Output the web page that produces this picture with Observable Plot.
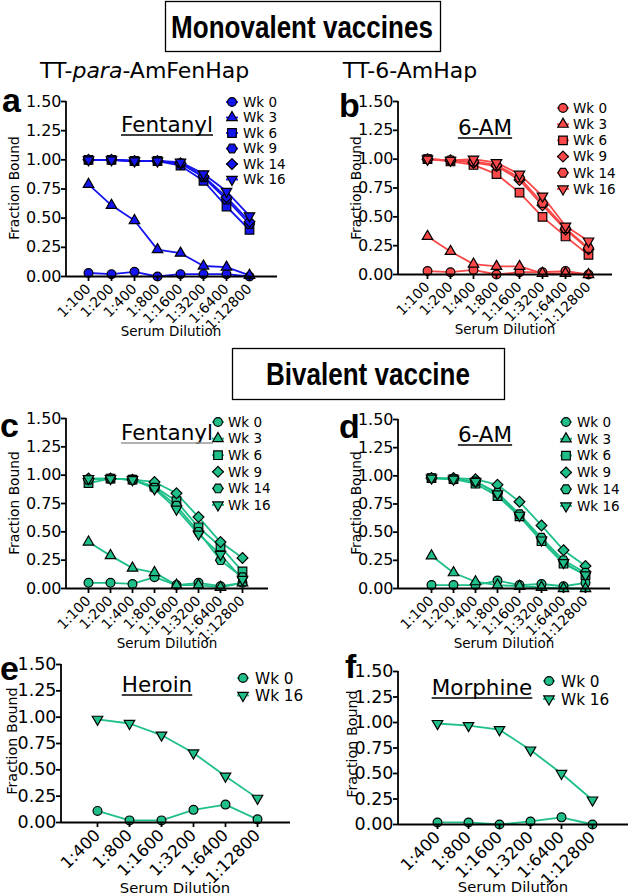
<!DOCTYPE html>
<html><head><meta charset="utf-8">
<script src="https://cdn.jsdelivr.net/npm/d3@7"></script>
<script src="https://cdn.jsdelivr.net/npm/@observablehq/plot@0.6"></script>
<style>
html,body{margin:0;padding:0;background:#fff;}
#root{position:relative;width:629px;height:896px;overflow:hidden;font-family:"DejaVu Sans",sans-serif;}
#root svg{position:absolute;left:0;top:0;overflow:visible;}
</style></head><body><div id="root"></div>
<script>
// ---------- data ----------
const dil8 = ["1:100","1:200","1:400","1:800","1:1600","1:3200","1:6400","1:12800"];
const dil6 = ["1:400","1:800","1:1600","1:3200","1:6400","1:12800"];
const weeks6 = ["Wk 0","Wk 3","Wk 6","Wk 9","Wk 14","Wk 16"];
const weeks2 = ["Wk 0","Wk 16"];
const yTicks = [0, 0.25, 0.5, 0.75, 1.0, 1.25, 1.5];

// a: TT-para-AmFenHap, fentanyl
const fenA_wk0  = [0.03,0.02,0.04,0.00,0.02,0.02,0.02,0.00];
const fenA_wk3  = [0.79,0.61,0.48,0.23,0.20,0.09,0.08,0.01];
const fenA_wk6  = [1.00,1.00,0.99,0.99,0.95,0.82,0.60,0.40];
const fenA_wk9  = [1.00,1.00,0.99,0.99,0.97,0.85,0.66,0.45];
const fenA_wk14 = [1.00,1.00,0.99,0.99,0.97,0.86,0.68,0.47];
const fenA_wk16 = [1.00,1.00,0.99,0.99,0.98,0.88,0.73,0.52];
// b: TT-6-AmHap, 6-AM
const amB_wk0  = [0.03,0.02,0.04,0.00,0.02,0.02,0.03,0.00];
const amB_wk3  = [0.33,0.20,0.09,0.07,0.07,0.01,0.01,0.00];
const amB_wk6  = [1.00,0.98,0.95,0.87,0.71,0.50,0.33,0.17];
const amB_wk9  = [1.00,0.99,0.97,0.94,0.82,0.60,0.39,0.22];
const amB_wk14 = [1.00,0.99,0.98,0.95,0.84,0.62,0.40,0.23];
const amB_wk16 = [1.00,0.99,1.00,0.97,0.87,0.68,0.42,0.29];
// c: bivalent, fentanyl
const fenC_wk0  = [0.05,0.05,0.04,0.10,0.03,0.05,0.02,0.05];
const fenC_wk3  = [0.41,0.29,0.18,0.14,0.03,0.03,0.01,0.05];
const fenC_wk6  = [0.93,0.97,0.96,0.90,0.77,0.54,0.37,0.15];
const fenC_wk9  = [0.97,0.97,0.96,0.94,0.84,0.63,0.41,0.27];
const fenC_wk14 = [0.96,0.97,0.96,0.89,0.73,0.50,0.25,0.10];
const fenC_wk16 = [0.97,0.97,0.96,0.88,0.70,0.48,0.30,0.08];
// d: bivalent, 6-AM
const amD_wk0  = [0.03,0.03,0.03,0.07,0.03,0.04,0.02,0.05];
const amD_wk3  = [0.29,0.14,0.06,0.03,0.02,0.01,0.00,0.00];
const amD_wk6  = [0.98,0.97,0.93,0.82,0.64,0.42,0.22,0.12];
const amD_wk9  = [0.98,0.98,0.97,0.92,0.77,0.56,0.34,0.20];
const amD_wk14 = [0.98,0.97,0.95,0.85,0.66,0.45,0.25,0.14];
const amD_wk16 = [0.98,0.97,0.95,0.84,0.65,0.43,0.23,0.12];
// e: bivalent, heroin
const her_wk0  = [0.11,0.02,0.02,0.12,0.17,0.03];
const her_wk16 = [0.98,0.94,0.83,0.66,0.44,0.23];
// f: bivalent, morphine
const mor_wk0  = [0.02,0.02,0.00,0.03,0.07,0.00];
const mor_wk16 = [0.99,0.97,0.93,0.73,0.50,0.24];

const BLUE = "#1414f0", RED = "#fa4848", GREEN = "#1fbf8a";
const FONT = "'DejaVu Sans', 'Liberation Sans', Arial, sans-serif";
const BOLDFONT = "'Liberation Sans', Arial, Helvetica, sans-serif";

// ---------- symbols ----------
const S3 = Math.sqrt(3);
const sym = {
  circle: {draw(c){ const r=4.4; c.moveTo(r,0); c.arc(0,0,r,0,2*Math.PI); }},
  square: {draw(c){ const h=4.3; c.rect(-h,-h,2*h,2*h); }},
  triangle: {draw(c){ const s=10.5, h=s*S3/2; c.moveTo(0,-2*h/3); c.lineTo(s/2,h/3); c.lineTo(-s/2,h/3); c.closePath(); }},
  triDown: {draw(c){ const s=10.5, h=s*S3/2; c.moveTo(0,2*h/3); c.lineTo(s/2,-h/3); c.lineTo(-s/2,-h/3); c.closePath(); }},
  diamond: {draw(c){ const r=5.4; c.moveTo(0,-r); c.lineTo(r,0); c.lineTo(0,r); c.lineTo(-r,0); c.closePath(); }},
  hexagon: {draw(c){ const r=5; for (let i=0;i<6;i++){ const a=i*Math.PI/3; const x=r*Math.cos(a), y=r*Math.sin(a); i?c.lineTo(x,y):c.moveTo(x,y);} c.closePath(); }}
};
function symPath(s){ const p = d3.path(); s.draw(p, 0); return p.toString(); }

const root = document.getElementById("root");

function panel(cfg){
  const marks = [];
  cfg.series.forEach(s => {
    const rows = s.values.map((v,i) => ({dil: cfg.dil[i], v, week: s.name}));
    marks.push(Plot.line(rows, {x:"dil", y:"v", stroke: cfg.color, strokeWidth: 1.8}));
  });
  cfg.series.forEach(s => {
    const rows = s.values.map((v,i) => ({dil: cfg.dil[i], v, week: s.name}));
    marks.push(Plot.dot(rows, {x:"dil", y:"v", symbol: s.sym, r: 4.5, fill: cfg.color, stroke: "#000", strokeWidth: 1.2}));
  });
  marks.push(Plot.ruleY([0], {stroke:"#000", strokeWidth: 1.8}));
  marks.push(Plot.axisY({ticks: yTicks, tickFormat: d => d.toFixed(2), tickSize: 5, tickPadding: 0, fontSize: cfg.yFont, label: null, strokeWidth: 1.8}));
  marks.push(Plot.axisX({tickRotate: -45, tickSize: 5, tickPadding: 5, fontSize: cfg.xFont, label: null, strokeWidth: 1.8}));
  const p = Plot.plot({
    width: 629, height: 896,
    marginLeft: cfg.axisX, marginRight: 629 - cfg.right,
    marginTop: cfg.y150, marginBottom: 896 - cfg.y0,
    x: {type: "point", domain: cfg.dil, range: [cfg.xFirst, cfg.xLast]},
    y: {domain: [0, 1.5]},
    style: {background: "transparent", fontFamily: FONT, color: "#000"},
    marks
  });
  const ys = p.scale("y");
  d3.select(p).append("line")
    .attr("x1", cfg.axisX).attr("x2", cfg.axisX)
    .attr("y1", ys.apply(0) + 0.9).attr("y2", ys.apply(1.5))
    .attr("stroke", "#000").attr("stroke-width", 1.8);
  root.append(p);
}

panel({dil: dil8, color: BLUE, axisX: 66, right: 277, y0: 276, y150: 101, xFirst: 74, xLast: 262, yFont: 16, xFont: 14,
  series: [
    {name:"Wk 0", values: fenA_wk0, sym: sym.circle},
    {name:"Wk 3", values: fenA_wk3, sym: sym.triangle},
    {name:"Wk 6", values: fenA_wk6, sym: sym.square},
    {name:"Wk 9", values: fenA_wk9, sym: sym.hexagon},
    {name:"Wk 14", values: fenA_wk14, sym: sym.diamond},
    {name:"Wk 16", values: fenA_wk16, sym: sym.triDown}]});
panel({dil: dil8, color: RED, axisX: 398, right: 612, y0: 274, y150: 101, xFirst: 415, xLast: 599, yFont: 16, xFont: 14,
  series: [
    {name:"Wk 0", values: amB_wk0, sym: sym.circle},
    {name:"Wk 3", values: amB_wk3, sym: sym.triangle},
    {name:"Wk 6", values: amB_wk6, sym: sym.square},
    {name:"Wk 9", values: amB_wk9, sym: sym.diamond},
    {name:"Wk 14", values: amB_wk14, sym: sym.hexagon},
    {name:"Wk 16", values: amB_wk16, sym: sym.triDown}]});
panel({dil: dil8, color: GREEN, axisX: 66, right: 268, y0: 588, y150: 418, xFirst: 74, xLast: 256, yFont: 16, xFont: 14,
  series: [
    {name:"Wk 0", values: fenC_wk0, sym: sym.circle},
    {name:"Wk 3", values: fenC_wk3, sym: sym.triangle},
    {name:"Wk 6", values: fenC_wk6, sym: sym.square},
    {name:"Wk 9", values: fenC_wk9, sym: sym.diamond},
    {name:"Wk 14", values: fenC_wk14, sym: sym.hexagon},
    {name:"Wk 16", values: fenC_wk16, sym: sym.triDown}]});
panel({dil: dil8, color: GREEN, axisX: 398, right: 610, y0: 588, y150: 419, xFirst: 417, xLast: 598, yFont: 16, xFont: 14,
  series: [
    {name:"Wk 0", values: amD_wk0, sym: sym.circle},
    {name:"Wk 3", values: amD_wk3, sym: sym.triangle},
    {name:"Wk 6", values: amD_wk6, sym: sym.square},
    {name:"Wk 9", values: amD_wk9, sym: sym.diamond},
    {name:"Wk 14", values: amD_wk14, sym: sym.hexagon},
    {name:"Wk 16", values: amD_wk16, sym: sym.triDown}]});
panel({dil: dil6, color: GREEN, axisX: 61, right: 290, y0: 822, y150: 664, xFirst: 81, xLast: 273, yFont: 17.5, xFont: 16.5,
  series: [
    {name:"Wk 0", values: her_wk0, sym: sym.circle},
    {name:"Wk 16", values: her_wk16, sym: sym.triDown}]});
panel({dil: dil6, color: GREEN, axisX: 398, right: 628, y0: 824, y150: 671, xFirst: 421, xLast: 608, yFont: 17.5, xFont: 16.5,
  series: [
    {name:"Wk 0", values: mor_wk0, sym: sym.circle},
    {name:"Wk 16", values: mor_wk16, sym: sym.triDown}]});

// ---------- annotations overlay ----------
const ov = d3.select(root).append("svg").attr("width", 629).attr("height", 896)
  .style("font-family", FONT);
function txt(x, y, s, o = {}){
  return ov.append("text").attr("x", x).attr("y", y).text(s)
    .attr("font-size", o.size || 15).attr("font-weight", o.weight || "normal")
    .attr("font-family", o.family || FONT)
    .attr("text-anchor", o.anchor || "start").attr("fill", "#000");
}
// header boxes
ov.append("rect").attr("x",165.5).attr("y",1.5).attr("width",275).attr("height",50).attr("fill","none").attr("stroke","#000").attr("stroke-width",1.3);
txt(302, 38, "Monovalent vaccines", {size: 31, weight: "bold", anchor: "middle", family: BOLDFONT})
  .attr("transform", "translate(302,0) scale(0.84,1) translate(-302,0)");
ov.append("rect").attr("x",232.5).attr("y",348.5).attr("width",272).attr("height",51).attr("fill","none").attr("stroke","#000").attr("stroke-width",1.3);
txt(368, 385, "Bivalent vaccine", {size: 31, weight: "bold", anchor: "middle", family: BOLDFONT})
  .attr("transform", "translate(368,0) scale(0.84,1) translate(-368,0)");
// vaccine names
const t1 = ov.append("text").attr("x", 40).attr("y", 78).attr("font-size", 22).attr("font-family", FONT);
t1.append("tspan").text("TT-");
t1.append("tspan").attr("font-style","italic").text("para");
t1.append("tspan").text("-AmFenHap");
txt(410, 78, "TT-6-AmHap", {size: 22, anchor: "middle"});

// panel letters
[["a",2,112],["b",339,117],["c",0,437],["d",339,438],["e",0,680],["f",345,678]]
  .forEach(([l,x,y]) => txt(x, y, l, {size: 34, weight: "bold", family: BOLDFONT}));

// panel titles (underlined)
[["Fentanyl",167,132,"#000"],["6-AM",485,135,"#000"],["Fentanyl",167,440,"#999"],["6-AM",485,442,"#000"],["Heroin",157,692,"#000"],["Morphine",482,695,"#000"]]
  .forEach(([s,x,y,uc]) => {
    const t = txt(x, y, s, {size: 21.5, anchor: "middle"});
    const w = t.node().getComputedTextLength();
    ov.append("line").attr("x1", x - w/2).attr("x2", x + w/2).attr("y1", y + 3).attr("y2", y + 3)
      .attr("stroke", uc).attr("stroke-width", 1.3);
  });

// axis titles
[[19,188,13.8],[361,188,13.8],[19,503,13.8],[361,503,13.8],[17,741,14.3],[357,744,14.3]].forEach(([x,y,s]) =>
  txt(x, y, "Fraction Bound", {size: s, anchor: "middle"}).attr("transform", `rotate(-90,${x},${y})`));
[[171,336,13.5],[505,334,13.5],[167,648,13.5],[504,648,13.5],[175,893,14.8],[513,892,14.8]].forEach(([x,y,s]) =>
  txt(x, y, "Serum Dilution", {size: s, anchor: "middle"}));

// legends
function legend(names, syms, color, symX, textX, y0, dy, size){
  names.forEach((n,i) => {
    const y = y0 + i*dy;
    ov.append("line").attr("x1", symX-6).attr("x2", symX+6).attr("y1", y).attr("y2", y).attr("stroke", color).attr("stroke-width", 1.8);
    ov.append("path").attr("d", symPath(syms[i])).attr("transform", `translate(${symX},${y})`)
      .attr("fill", color).attr("stroke", "#000").attr("stroke-width", 1.2);
    txt(textX, y + size*0.36, n, {size});
  });
}
legend(weeks6, [sym.circle, sym.triangle, sym.square, sym.hexagon, sym.diamond, sym.triDown], BLUE, 232, 243, 102, 15.5, 13.5);
legend(weeks6, [sym.circle, sym.triangle, sym.square, sym.diamond, sym.hexagon, sym.triDown], RED, 563, 573, 108, 16.2, 13.5);
legend(weeks6, [sym.circle, sym.triangle, sym.square, sym.diamond, sym.hexagon, sym.triDown], GREEN, 218, 228, 422, 16.6, 13.5);
legend(weeks6, [sym.circle, sym.triangle, sym.square, sym.diamond, sym.hexagon, sym.triDown], GREEN, 566, 577, 422, 16.8, 13.5);
legend(weeks2, [sym.circle, sym.triDown], GREEN, 243, 255, 678, 17.5, 15.3);
legend(weeks2, [sym.circle, sym.triDown], GREEN, 549, 561, 681, 18, 15.3);
</script></body></html>
